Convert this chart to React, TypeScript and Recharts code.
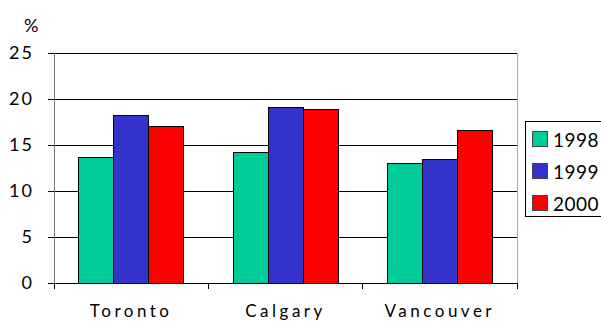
import { Bar, BarChart, CartesianGrid, XAxis, YAxis } from "recharts"

const CITIES = ["Toronto", "Calgary", "Vancouver"]
const Y1998 = [13.6, 14.2, 13.0]
const Y1999 = [18.2, 19.1, 13.4]
const Y2000 = [17.0, 18.9, 16.6]
const Y_TICKS = [0, 5, 10, 15, 20, 25]

const SERIES = [
  { key: "y1998", label: "1998", color: "#00CC99" },
  { key: "y1999", label: "1999", color: "#3333CC" },
  { key: "y2000", label: "2000", color: "#FF0000" },
]

const rows = CITIES.map((city, i) => ({
  city,
  y1998: Y1998[i],
  y1999: Y1999[i],
  y2000: Y2000[i],
}))

const FONT = "Lato, 'Open Sans', sans-serif"
const TICK = { fill: "#000", fontSize: 18, fontFamily: FONT, letterSpacing: 2 }
const X_TICK_SIZE = 6
const X_TICK_MARGIN = 16

// Libellé de catégorie + petites graduations aux limites de la bande (comme Excel).
function CityTick(props: any) {
  const { x, y, payload } = props
  const half = payload?.offset ?? 0
  const axisY = y - X_TICK_SIZE - X_TICK_MARGIN
  return (
    <g>
      <line x1={x - half} x2={x - half} y1={axisY} y2={axisY + 6} stroke="#000" />
      <line x1={x + half} x2={x + half} y1={axisY} y2={axisY + 6} stroke="#000" />
      <text
        x={x}
        y={y}
        dy="0.71em"
        textAnchor="middle"
        fill="#000"
        fontSize={17}
        fontFamily={FONT}
        letterSpacing={3.5}
      >
        {payload.value}
      </text>
    </g>
  )
}

function Legend() {
  return (
    <div
      style={{
        position: "absolute",
        left: 525,
        top: 121,
        width: 90,
        height: 96,
        border: "1px solid #000",
        background: "#fff",
        boxSizing: "border-box",
        fontFamily: FONT,
        fontSize: 19,
      }}
    >
      {SERIES.map((s, i) => (
        <div
          key={s.key}
          style={{ position: "absolute", left: 6, top: 9 + i * 32, display: "flex", alignItems: "center", height: 16 }}
        >
          <span
            style={{
              width: 14,
              height: 14,
              background: s.color,
              border: "1px solid #444",
              display: "inline-block",
            }}
          />
          <span style={{ marginLeft: 5, letterSpacing: 0.5 }}>{s.label}</span>
        </div>
      ))}
    </div>
  )
}

export default function App() {
  return (
    <div style={{ position: "absolute", left: 0, top: 0, width: 601, height: 323, overflow: "hidden", background: "#fff" }}>
      <style>{"svg line, svg path { shape-rendering: crispEdges; }"}</style>
      <div style={{ position: "absolute", left: 24, top: 14, fontFamily: FONT, fontSize: 18 }}>%</div>
      <BarChart
        width={601}
        height={323}
        data={rows}
        margin={{ top: 53, right: 84, bottom: 0, left: 0 }}
        barCategoryGap="16%"
        barGap={0}
      >
        <CartesianGrid horizontal vertical={false} stroke="#000" />
        <CartesianGrid
          horizontal={false}
          vertical
          stroke="#aaa"
          verticalCoordinatesGenerator={({ offset }: any) => [offset.left + offset.width]}
        />
        <XAxis
          dataKey="city"
          height={40}
          stroke="#000"
          tickLine={false}
          tickSize={X_TICK_SIZE}
          tickMargin={X_TICK_MARGIN}
          tick={<CityTick />}
        />
        <YAxis
          domain={[0, 25]}
          ticks={Y_TICKS}
          width={54}
          tick={TICK}
          tickSize={6}
          tickMargin={14}
          stroke="#777"
          tickLine={{ stroke: "#000" }}
        />
        {SERIES.map((s) => (
          <Bar
            key={s.key}
            dataKey={s.key}
            name={s.label}
            fill={s.color}
            stroke="#000"
            strokeWidth={1}
            isAnimationActive={false}
          />
        ))}
      </BarChart>
      <Legend />
    </div>
  )
}
